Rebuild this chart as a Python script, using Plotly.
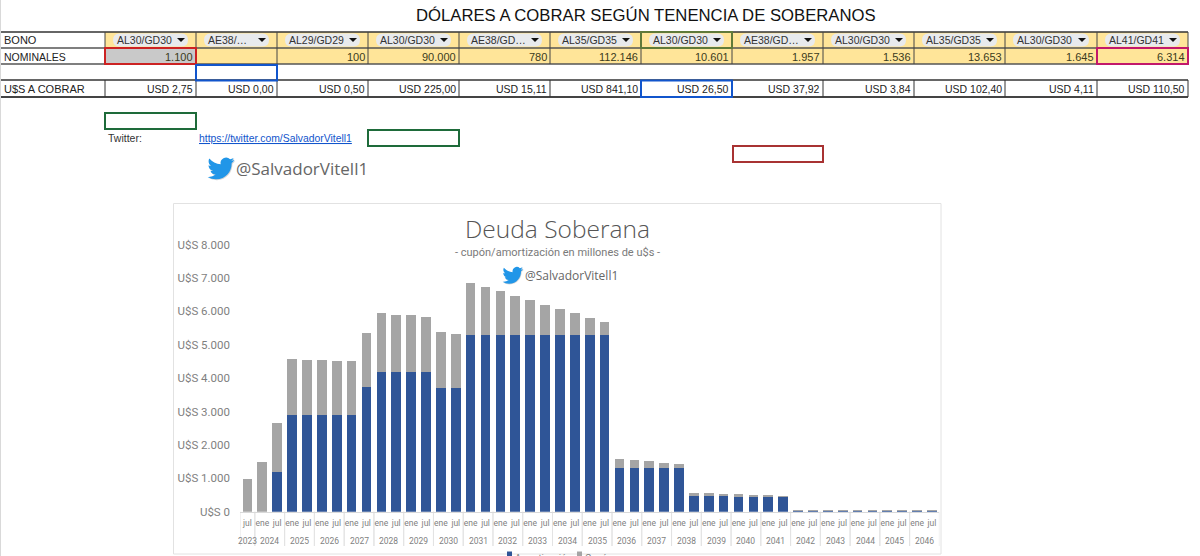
import urllib.parse
import plotly.graph_objects as go

W, H = 1200, 556

# ---------- chart data ----------
years = ["2023", "2024", "2024"]
for y in range(2025, 2047):
    years += [str(y)] * 2
months = ["jul", "ene", "jul"] + ["ene", "jul"] * 22
periods = [f"{m} {y}" for m, y in zip(months, years)]

amortizacion = [0, 0, 1180, 2895, 2895, 2895, 2895, 2895, 3733, 4183, 4183, 4183, 4183, 3695, 3695,
                5280, 5280, 5280, 5280, 5280, 5280, 5280, 5280, 5280, 5280,
                1318, 1318, 1318, 1318, 1318, 470, 470, 470, 470, 470, 480, 465,
                45, 45, 45, 45, 45, 45, 45, 45, 45, 45]
cupon = [990, 1497, 1485, 1677, 1647, 1638, 1630, 1617, 1617, 1757, 1697, 1697, 1647, 1675, 1625,
         1577, 1438, 1318, 1187, 1049, 918, 789, 660, 510, 390,
         250, 230, 190, 150, 120, 80, 80, 60, 50, 40, 10, 10,
         5, 5, 5, 5, 5, 5, 5, 5, 5, 5]
y_ticks = [0, 1000, 2000, 3000, 4000, 5000, 6000, 7000, 8000]
y_labels = ["U$S 0", "U$S 1.000", "U$S 2.000", "U$S 3.000", "U$S 4.000",
            "U$S 5.000", "U$S 6.000", "U$S 7.000", "U$S 8.000"]

# ---------- sheet data ----------
bonos = ["AL30/GD30", "AE38/…", "AL29/GD29", "AL30/GD30", "AE38/GD…", "AL35/GD35",
         "AL30/GD30", "AE38/GD…", "AL30/GD30", "AL35/GD35", "AL30/GD30", "AL41/GD41"]
nominales = ["1.100", "", "100", "90.000", "780", "112.146",
             "10.601", "1.957", "1.536", "13.653", "1.645", "6.314"]
cobrar = ["USD 2,75", "USD 0,00", "USD 0,50", "USD 225,00", "USD 15,11", "USD 841,10",
          "USD 26,50", "USD 37,92", "USD 3,84", "USD 102,40", "USD 4,11", "USD 110,50"]
col_edges = [105, 196, 277, 368, 459, 550, 641, 732, 823, 914, 1005, 1097, 1188]

SHEET_FONT = "Liberation Sans"
UI_FONT = "Open Sans"
SMALL_FONT = "Roboto"


def px(x):
    return x / W


def py(y):
    return 1 - y / H


shapes = []
annotations = []


def rect(x0, y0, x1, y1, line=None, fill=None, width=1, layer="below"):
    shapes.append(dict(type="rect", xref="paper", yref="paper", layer=layer,
                       x0=px(x0), x1=px(x1), y0=py(y0), y1=py(y1),
                       line=dict(color=line or "rgba(0,0,0,0)", width=width if line else 0),
                       fillcolor=fill or "rgba(0,0,0,0)"))


def hline(x0, x1, y, color, width=1):
    shapes.append(dict(type="line", xref="paper", yref="paper", layer="below",
                       x0=px(x0), x1=px(x1), y0=py(y), y1=py(y),
                       line=dict(color=color, width=width)))


def vline(x, y0, y1, color, width=1):
    shapes.append(dict(type="line", xref="paper", yref="paper", layer="below",
                       x0=px(x), x1=px(x), y0=py(y0), y1=py(y1),
                       line=dict(color=color, width=width)))


def text(x, y, s, size, color="#222222", anchor="left", font=SHEET_FONT, weight=None):
    f = dict(size=size, color=color, family=font)
    if weight:
        f["weight"] = weight
    annotations.append(dict(xref="paper", yref="paper", x=px(x), y=py(y), text=s,
                            showarrow=False, xanchor=anchor, yanchor="middle",
                            align=anchor, borderpad=0, borderwidth=0, font=f))


def pill(x0, y0, x1, y1, color):
    r = (y1 - y0) / 2
    p = (f"M {px(x0 + r)} {py(y0)} L {px(x1 - r)} {py(y0)} "
         f"Q {px(x1)} {py(y0)} {px(x1)} {py(y0 + r)} Q {px(x1)} {py(y1)} {px(x1 - r)} {py(y1)} "
         f"L {px(x0 + r)} {py(y1)} Q {px(x0)} {py(y1)} {px(x0)} {py(y0 + r)} "
         f"Q {px(x0)} {py(y0)} {px(x0 + r)} {py(y0)} Z")
    shapes.append(dict(type="path", xref="paper", yref="paper", layer="below", path=p,
                       fillcolor=color, line=dict(width=0)))


def triangle(cx, cy):
    p = (f"M {px(cx - 4)} {py(cy - 2)} L {px(cx + 4)} {py(cy - 2)} L {px(cx)} {py(cy + 2)} Z")
    shapes.append(dict(type="path", xref="paper", yref="paper", layer="below", path=p,
                       fillcolor="#111111", line=dict(width=0)))


# ---------- sheet ----------
vline(0.5, 0, 556, "#d9d9d9")
for i in range(12):
    rect(col_edges[i], 32, col_edges[i + 1], 64, fill="#FFE599")
rect(105, 48, 196, 64, fill="#C9C9C9")
hline(1, 1188, 32, "#333333", 1.5)
hline(1, 1188, 48, "#555555", 1.5)
hline(1, 1188, 64, "#555555", 1.5)
hline(1, 1188, 80, "#333333", 1.5)
hline(1, 1188, 97, "#444444", 2)
for x in col_edges:
    vline(x, 32, 64, "#444444", 1)
    vline(x, 80, 97, "#333333", 1)

text(4, 39.5, "BONO", 11)
text(4, 56.5, "NOMINALES", 10.5)
text(4, 88.5, "U$S A COBRAR", 11)

for i, lab in enumerate(bonos):
    l, r = col_edges[i], col_edges[i + 1]
    pill(l + 8, 33.5, r - 8, 46.5, "#E8EAED")
    triangle(r - 15, 40)
    text(l + 12, 40, lab, 10.5, "#333333")
    if nominales[i]:
        text(r - 3, 56.5, nominales[i], 11, "#3b3b20", anchor="right")
    text(r - 3, 88.5, cobrar[i], 10.5, "#222222", anchor="right")

rect(105, 48, 196, 64, line="#CC2222", width=2)
rect(1097, 48, 1188, 64, line="#C2186B", width=2)
rect(641, 32, 732, 48, line="#5F7A3A", width=2)
rect(196, 65, 277, 80.5, line="#1155CC", width=2)
rect(641, 80.5, 732, 97, line="#1155CC", width=2)
rect(105, 113, 196, 129, line="#1E6B3A", width=2)
rect(368, 130, 459, 146, line="#1E6B3A", width=2)
rect(733, 146, 823, 162, line="#A83232", width=2)

text(646.5, 15, "DÓLARES A COBRAR SEGÚN TENENCIA DE SOBERANOS", 16.7, "#111111", anchor="center")
text(108, 138, "Twitter:", 10.5, "#333333")
text(199, 138, "<u>https://twitter.com/SalvadorVitell1</u>", 10.4, "#1155CC")
text(236, 168, "@SalvadorVitell1", 17, "#666666", font=UI_FONT)

# ---------- chart frame and texts ----------
rect(173.5, 203.5, 941, 554, line="#E2E2E2", width=1)
text(557, 228, "Deuda Soberana", 24.5, "#555555", anchor="center", font=UI_FONT, weight=300)
text(557.5, 252.7, "- cupón/amortización en millones de u$s -", 11, "#7a7a7a", anchor="center", font=SMALL_FONT)
text(525, 275.5, "@SalvadorVitell1", 12, "#666666", font=UI_FONT)
# legend, cut by the bottom of the screenshot as in the reference
rect(507, 551.5, 512, 556, fill="#2F5597")
text(515, 557.5, "Amortización", 9.5, "#7f7f7f", font=SMALL_FONT)
rect(577, 551.5, 582, 556, fill="#A5A5A5")
text(585, 557.5, "Cupón", 9.5, "#7f7f7f", font=SMALL_FONT)

# ---------- year labels and dividers, placed on the category scale ----------
seen = []
for y in years:
    if y not in seen:
        seen.append(y)
for y in seen:
    idx = [i for i, v in enumerate(years) if v == y]
    annotations.append(dict(xref="x", yref="paper", x=sum(idx) / len(idx), y=py(541), text=y,
                            showarrow=False, xanchor="center", yanchor="middle", borderpad=0,
                            font=dict(size=8.5, color="#7f7f7f", family=SMALL_FONT)))
    for b in {idx[0] - 0.5, idx[-1] + 0.5}:
        shapes.append(dict(type="line", xref="x", yref="paper", layer="below",
                           x0=b, x1=b, y0=py(511.7), y1=py(546),
                           line=dict(color="#E3E3E3", width=1)))

# ---------- twitter bird images ----------
BIRD = ("M23.953 4.57a10 10 0 01-2.825.775 4.958 4.958 0 002.163-2.723c-.951.555-2.005.959-3.127 1.184"
        "a4.92 4.92 0 00-8.384 4.482C7.69 8.095 4.067 6.13 1.64 3.162a4.822 4.822 0 00-.666 2.475"
        "c0 1.71.87 3.213 2.188 4.096a4.904 4.904 0 01-2.228-.616v.06a4.923 4.923 0 003.946 4.827"
        " 4.996 4.996 0 01-2.212.085 4.936 4.936 0 004.604 3.417 9.867 9.867 0 01-6.102 2.105"
        "c-.39 0-.779-.023-1.17-.067a13.995 13.995 0 007.557 2.209c9.053 0 13.998-7.496 13.998-13.985"
        " 0-.21 0-.42-.015-.63A9.935 9.935 0 0024 4.59z")
svg = ("<svg xmlns='http://www.w3.org/2000/svg' viewBox='0 0 25 25' width='100' height='100'>"
       f"<path d='{BIRD}' fill='#888888' fill-opacity='0.35' transform='translate(0.7 0.8)'/>"
       f"<path d='{BIRD}' fill='#2196E8'/></svg>")
src = "data:image/svg+xml;charset=utf-8," + urllib.parse.quote(svg)
images = [
    dict(source=src, xref="paper", yref="paper", x=px(207.5), y=py(155), sizex=28 / W, sizey=28 / H,
         xanchor="left", yanchor="top", sizing="contain", layer="above"),
    dict(source=src, xref="paper", yref="paper", x=px(502.5), y=py(265), sizex=21.5 / W, sizey=21.5 / H,
         xanchor="left", yanchor="top", sizing="contain", layer="above"),
]

# ---------- figure ----------
fig = go.Figure()
fig.add_bar(x=periods, y=amortizacion, name="Amortización", marker_color="#2F5597", marker_line_width=0)
fig.add_bar(x=periods, y=cupon, name="Cupón", marker_color="#A5A5A5", marker_line_width=0)

fig.update_layout(
    width=W, height=H, barmode="stack", bargap=0.35,
    margin=dict(l=0, r=0, t=0, b=0, autoexpand=False),
    paper_bgcolor="white", plot_bgcolor="rgba(0,0,0,0)",
    font=dict(family=UI_FONT, color="#7f7f7f"),
    shapes=shapes, annotations=annotations, images=images,
    showlegend=False,
    xaxis=dict(type="category", domain=[px(240), px(939.4)], showline=True, linecolor="#D9D9D9",
               linewidth=1, showgrid=False, ticks="", tickangle=0, tickmode="array",
               tickvals=periods, ticktext=months, range=[-0.5, 46.5],
               ticklabelstandoff=3, tickfont=dict(size=8.5, color="#7f7f7f", family=SMALL_FONT),
               anchor="y"),
    yaxis=dict(domain=[py(511.7), py(244.5)], range=[0, 8000], tickvals=y_ticks, ticktext=y_labels,
               showgrid=False, zeroline=False, showline=False, ticks="",
               ticklabelstandoff=9, tickfont=dict(size=11.5, color="#7f7f7f", family=SMALL_FONT)),
)

fig.write_html("out.html", config={"displayModeBar": False},
               post_script="document.body.style.margin='0';")
